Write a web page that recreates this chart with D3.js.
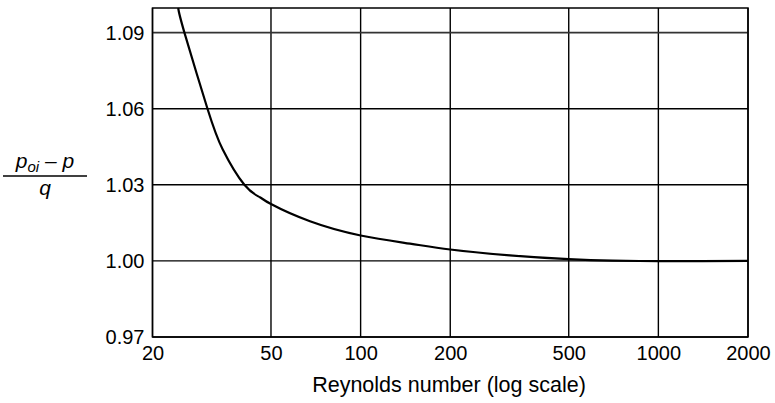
<!DOCTYPE html>
<html>
<head>
<meta charset="utf-8">
<script src="https://cdn.jsdelivr.net/npm/d3@7"></script>
<style>
  body { margin: 0; background: #fff; }
  text { font-family: "Liberation Sans", Arial, Helvetica, sans-serif; fill: #000; }
</style>
</head>
<body>
<svg id="chart" width="775" height="403"></svg>
<script>
// Reynolds number vs (p_oi - p)/q
const reynolds = [24.4, 25.6, 30.6, 34.4, 40.7, 45.9, 50, 67.6, 100, 146.5, 200, 317, 500, 700, 1000, 1400, 2000];
const pressure = [1.0997, 1.09, 1.06, 1.0440, 1.03, 1.0251, 1.0224, 1.0156, 1.0100, 1.0068, 1.0045, 1.0022, 1.0007, 1.0001, 0.9999, 0.9999, 1.0000];

const xTicks = [20, 50, 100, 200, 500, 1000, 2000];
const yTicks = [0.97, 1.00, 1.03, 1.06, 1.09];

const svg = d3.select("#chart"),
      margin = { top: 8, right: 27, bottom: 66, left: 152.5 },
      width = +svg.attr("width") - margin.left - margin.right,
      height = +svg.attr("height") - margin.top - margin.bottom;

const g = svg.append("g").attr("transform", `translate(${margin.left},${margin.top})`);

const x = d3.scaleLog().domain([20, 2000]).range([0, width]);
const y = d3.scaleLinear().domain([0.97, 1.0997]).range([height, 0]);

// Grid
g.selectAll(".vgrid")
  .data(xTicks)
  .enter()
  .append("line")
  .attr("x1", d => x(d)).attr("x2", d => x(d))
  .attr("y1", 0).attr("y2", height)
  .attr("stroke", "#000")
  .attr("stroke-width", 1.4);

g.selectAll(".hgrid")
  .data(yTicks)
  .enter()
  .append("line")
  .attr("x1", 0).attr("x2", width)
  .attr("y1", d => y(d)).attr("y2", d => y(d))
  .attr("stroke", d => d === 1.09 ? "#333" : "#000")
  .attr("stroke-width", d => d === 1.09 ? 1.8 : 1.4);

// Frame
g.append("rect")
  .attr("width", width).attr("height", height)
  .attr("fill", "none")
  .attr("stroke", "#000")
  .attr("stroke-width", 1.5);

// Axes (labels only)
const xAxis = g.append("g")
  .attr("transform", `translate(0,${height})`)
  .call(d3.axisBottom(x).tickValues(xTicks).tickFormat(d3.format("d")).tickSize(0).tickPadding(9));
xAxis.select(".domain").remove();
xAxis.selectAll("text").attr("font-size", 20).attr("font-family", null);

const yAxis = g.append("g")
  .call(d3.axisLeft(y).tickValues(yTicks).tickFormat(d3.format(".2f")).tickSize(0).tickPadding(8));
yAxis.select(".domain").remove();
yAxis.selectAll("text").attr("font-size", 20).attr("font-family", null);

// Curve
const line = d3.line()
  .x((d, i) => x(reynolds[i]))
  .y(d => y(d))
  .curve(d3.curveNatural);

g.append("path")
  .datum(pressure)
  .attr("fill", "none")
  .attr("stroke", "#000")
  .attr("stroke-width", 2.2)
  .attr("d", line);

// X title
svg.append("text")
  .attr("x", 449)
  .attr("y", 392)
  .attr("text-anchor", "middle")
  .attr("font-size", 21.5)
  .text("Reynolds number (log scale)");

// Y label as fraction
const frac = svg.append("g").attr("transform", "translate(45,0)");
const num = frac.append("text")
  .attr("x", 0).attr("y", 168)
  .attr("text-anchor", "middle")
  .attr("font-size", 21)
  .attr("font-style", "italic");
num.append("tspan").text("p");
num.append("tspan").attr("font-size", 15).attr("dy", 4).text("oi");
num.append("tspan").attr("dy", -4).text(" \u2013 p");
frac.append("line")
  .attr("x1", -42).attr("x2", 42)
  .attr("y1", 176).attr("y2", 176)
  .attr("stroke", "#000").attr("stroke-width", 1.6);
frac.append("text")
  .attr("x", 0).attr("y", 195)
  .attr("text-anchor", "middle")
  .attr("font-size", 21)
  .attr("font-style", "italic")
  .text("q");
</script>
</body>
</html>
